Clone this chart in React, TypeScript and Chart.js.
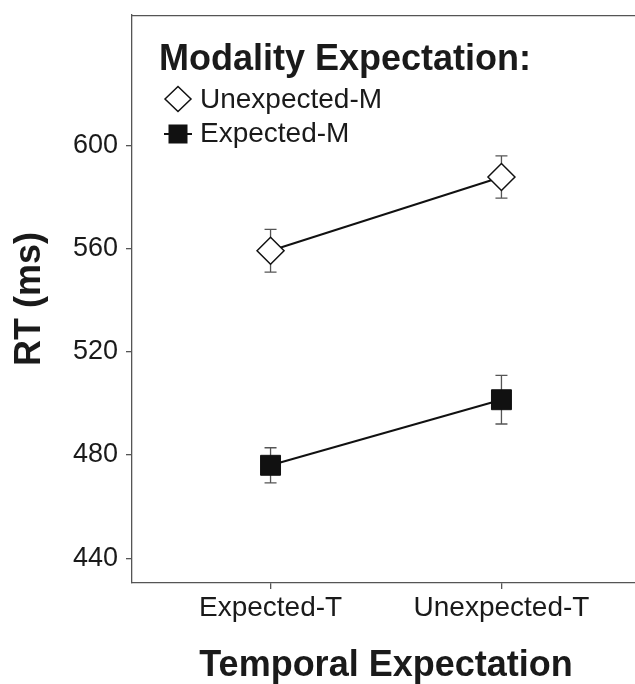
import React, { useEffect, useRef } from 'react';
import { Chart, registerables } from 'chart.js';

Chart.register(...registerables);

const categories = ['Expected-T', 'Unexpected-T'];
const categoryPositions = [1, 2];
const unexpectedM = [559.1, 587.7];
const unexpectedMErr = [8.3, 8.2];
const expectedM = [476.0, 501.4];
const expectedMErr = [6.8, 9.4];
const yTicks = [440, 480, 520, 560, 600];
const seriesNames = ['Unexpected-M', 'Expected-M'];
const legendTitle = 'Modality Expectation:';
const xTitle = 'Temporal Expectation';
const yTitle = 'RT (ms)';

const FONT = '"Liberation Sans", Arial, Helvetica, sans-serif';
const TEXT = '#1a1a1a';
const AXIS = '#555555';

const errorBarsPlugin = {
  id: 'errorBars',
  beforeDatasetsDraw(chart: any) {
    const ctx = chart.ctx;
    const xs = chart.scales.x;
    const ys = chart.scales.y;
    ctx.save();
    ctx.strokeStyle = AXIS;
    ctx.lineWidth = 1.3;
    chart.data.datasets.forEach((ds: any) => {
      ds.data.forEach((p: any, j: number) => {
        const e = ds.errors[j];
        const x = xs.getPixelForValue(p.x);
        const y1 = ys.getPixelForValue(p.y + e);
        const y2 = ys.getPixelForValue(p.y - e);
        ctx.beginPath();
        ctx.moveTo(x, y1);
        ctx.lineTo(x, y2);
        ctx.moveTo(x - 6, y1);
        ctx.lineTo(x + 6, y1);
        ctx.moveTo(x - 6, y2);
        ctx.lineTo(x + 6, y2);
        ctx.stroke();
      });
    });
    ctx.restore();
  },
};

const framePlugin = {
  id: 'frame',
  afterDraw(chart: any) {
    const { ctx, chartArea } = chart;
    ctx.save();
    ctx.strokeStyle = AXIS;
    ctx.lineWidth = 1.3;
    ctx.beginPath();
    ctx.moveTo(chartArea.left, chartArea.top + 0.5);
    ctx.lineTo(chartArea.right, chartArea.top + 0.5);
    ctx.stroke();
    ctx.restore();
  },
};

const legendPlugin = {
  id: 'customLegend',
  afterDraw(chart: any) {
    const ctx = chart.ctx;
    const ds = chart.data.datasets;
    ctx.save();
    ctx.fillStyle = TEXT;
    ctx.textBaseline = 'alphabetic';
    ctx.textAlign = 'left';
    ctx.font = `bold 36px ${FONT}`;
    ctx.fillText(legendTitle, 159, 69.5);

    // item 1: diamond
    const cx = 178;
    let cy = 99;
    ctx.beginPath();
    ctx.moveTo(cx - 13, cy);
    ctx.lineTo(cx, cy - 12.5);
    ctx.lineTo(cx + 13, cy);
    ctx.lineTo(cx, cy + 12.5);
    ctx.closePath();
    ctx.fillStyle = ds[0].pointBackgroundColor;
    ctx.fill();
    ctx.strokeStyle = ds[0].pointBorderColor;
    ctx.lineWidth = 1.5;
    ctx.stroke();
    ctx.fillStyle = TEXT;
    ctx.font = `28px ${FONT}`;
    ctx.fillText(seriesNames[0], 200, 107.5);

    // item 2: square with line
    cy = 134;
    ctx.strokeStyle = ds[1].borderColor;
    ctx.lineWidth = 2;
    ctx.beginPath();
    ctx.moveTo(164, cy);
    ctx.lineTo(192, cy);
    ctx.stroke();
    ctx.fillStyle = ds[1].pointBackgroundColor;
    ctx.fillRect(cx - 9.5, cy - 9.5, 19, 19);
    ctx.fillStyle = TEXT;
    ctx.fillText(seriesNames[1], 200, 142);
    ctx.restore();
  },
};

export default function App() {
  const ref = useRef<HTMLCanvasElement | null>(null);

  useEffect(() => {
    if (!ref.current) return;
    const chart = new Chart(ref.current, {
      type: 'line',
      data: {
        datasets: [
          {
            label: seriesNames[0],
            data: categoryPositions.map((x, i) => ({ x, y: unexpectedM[i] })),
            errors: unexpectedMErr,
            borderColor: '#111111',
            borderWidth: 2,
            pointStyle: 'rectRot',
            pointRadius: 13.5,
            pointBackgroundColor: '#ffffff',
            pointBorderColor: '#111111',
            pointBorderWidth: 1.5,
            fill: false,
            tension: 0,
          } as any,
          {
            label: seriesNames[1],
            data: categoryPositions.map((x, i) => ({ x, y: expectedM[i] })),
            errors: expectedMErr,
            borderColor: '#111111',
            borderWidth: 2,
            pointStyle: 'rect',
            pointRadius: 14.1,
            pointBackgroundColor: '#111111',
            pointBorderColor: '#111111',
            pointBorderWidth: 1,
            fill: false,
            tension: 0,
          } as any,
        ],
      },
      options: {
        responsive: false,
        animation: false,
        devicePixelRatio: 1,
        layout: { padding: { left: 0, top: 10, right: 60, bottom: 0 } },
        plugins: {
          legend: { display: false },
          tooltip: { enabled: false },
        },
        events: [],
        scales: {
          x: {
            type: 'linear',
            min: 0.4,
            max: 2.6,
            afterBuildTicks: (s: any) => {
              s.ticks = categoryPositions.map((v) => ({ value: v }));
            },
            afterFit: (s: any) => {
              s.height = 101;
              s.paddingLeft = 0;
              s.paddingRight = 0;
            },
            ticks: {
              callback: (_v: any, i: number) => categories[i],
              font: { family: FONT, size: 28, lineHeight: 1.2 },
              color: TEXT,
              padding: 2,
              autoSkip: false,
              maxRotation: 0,
            },
            grid: {
              drawOnChartArea: false,
              drawTicks: true,
              tickLength: 6,
              color: AXIS,
              lineWidth: 1.3,
            },
            border: { display: true, color: AXIS, width: 1.3 },
            title: {
              display: true,
              text: xTitle,
              color: TEXT,
              font: { family: FONT, size: 36, weight: 'bold', lineHeight: 1 },
              padding: { top: 0, bottom: 0 },
            },
          },
          y: {
            type: 'linear',
            min: 430.4,
            max: 650.4,
            afterBuildTicks: (s: any) => {
              s.ticks = yTicks.map((v) => ({ value: v }));
            },
            afterFit: (s: any) => {
              s.width = 132;
              s.paddingTop = 0;
              s.paddingBottom = 0;
            },
            ticks: {
              font: { family: FONT, size: 27, lineHeight: 0.5 },
              color: TEXT,
              padding: 8,
            },
            grid: {
              drawOnChartArea: false,
              drawTicks: true,
              tickLength: 6,
              color: AXIS,
              lineWidth: 1.3,
            },
            border: { display: true, color: AXIS, width: 1.3 },
            title: {
              display: true,
              text: yTitle,
              color: TEXT,
              font: { family: FONT, size: 36, weight: 'bold', lineHeight: 1 },
              padding: { top: 12, bottom: 0 },
            },
          },
        },
      } as any,
      plugins: [errorBarsPlugin, framePlugin, legendPlugin],
    });
    return () => chart.destroy();
  }, []);

  return (
    <div
      style={{
        position: 'fixed',
        left: 0,
        top: 0,
        width: 635,
        height: 684,
        overflow: 'hidden',
        background: '#ffffff',
      }}
    >
      <canvas ref={ref} width={700} height={684} style={{ display: 'block' }} />
    </div>
  );
}
